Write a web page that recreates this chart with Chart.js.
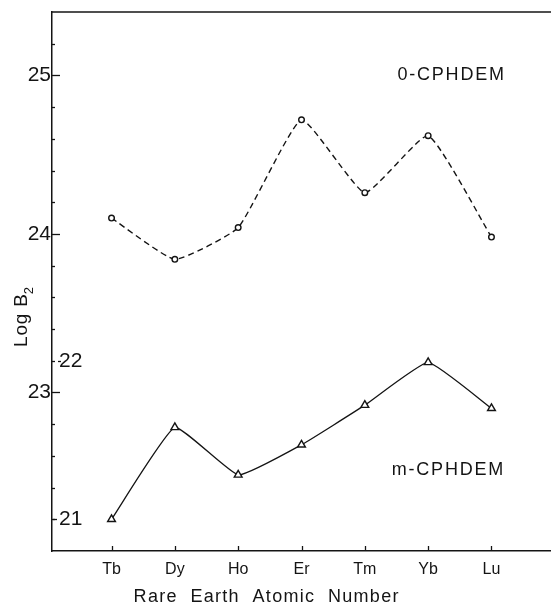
<!DOCTYPE html>
<html>
<head>
<meta charset="utf-8">
<script src="https://cdn.jsdelivr.net/npm/chart.js@4/dist/chart.umd.min.js"></script>
<style>
  html, body { margin: 0; padding: 0; background: #fff; }
  canvas { display: block; }
</style>
</head>
<body>
<canvas id="c" width="551" height="612"></canvas>
<script>
// ---- data ----
const categories = ["Tb", "Dy", "Ho", "Er", "Tm", "Yb", "Lu"];
const oCphdem = [24.10, 23.84, 24.04, 24.72, 24.26, 24.62, 23.98];   // left scale 23-25
const mCphdem = [21.00, 21.58, 21.28, 21.47, 21.72, 21.99, 21.70];   // inner scale 21-22
const oTicks = [23, 24, 25];
const mTicks = [21, 22];
const seriesNames = ["0-CPHDEM", "m-CPHDEM"];
const xTitle = "Rare  Earth  Atomic  Number";
const yTitle = "Log B";
const yTitleSub = "2";

const INK = "#141414";
const FONT = "'Liberation Sans', Arial, sans-serif";

const toPoints = arr => arr.map((v, i) => ({ x: i, y: v }));
const noPad = s => { s.paddingTop = 0; s.paddingBottom = 0; s.paddingLeft = 0; s.paddingRight = 0; };

const decor = {
  id: "decor",
  afterDraw(chart) {
    const { ctx, chartArea: a, scales } = chart;
    const x = scales.x, y = scales.y, y2 = scales.y2;
    ctx.save();
    ctx.strokeStyle = INK;
    ctx.lineWidth = 1.3;
    // top frame line
    ctx.beginPath();
    ctx.moveTo(a.left, a.top);
    ctx.lineTo(a.right, a.top);
    ctx.stroke();
    // inward ticks on left axis (0.2 steps)
    for (let k = 1; k <= 16; k++) {
      const v = y.min + k * 0.2;
      const py = Math.round(y.getPixelForValue(v)) + 0.5;
      const isMajor = oTicks.some(t => Math.abs(t - v) < 1e-6);
      ctx.beginPath();
      ctx.moveTo(a.left, py);
      ctx.lineTo(a.left + (isMajor ? 8 : 3), py);
      ctx.stroke();
    }
    // ticks for inner scale
    mTicks.forEach(t => {
      const py = Math.round(y2.getPixelForValue(t)) + 0.5;
      ctx.beginPath();
      ctx.moveTo(a.left + (t === 22 ? 6 : 1), py);
      ctx.lineTo(a.left + (t === 22 ? 9 : 5), py);
      ctx.stroke();
    });
    // inward ticks on x axis
    categories.forEach((c, i) => {
      const px = Math.round(x.getPixelForValue(i)) + 0.5;
      ctx.beginPath();
      ctx.moveTo(px, a.bottom);
      ctx.lineTo(px, a.bottom - 5);
      ctx.stroke();
    });
    // series labels
    ctx.fillStyle = INK;
    ctx.textAlign = "center";
    ctx.textBaseline = "middle";
    ctx.font = "18px " + FONT;
    ctx.letterSpacing = "1.8px";
    ctx.fillText(seriesNames[0], x.getPixelForValue(5.37), y.getPixelForValue(25.0));
    ctx.fillText(seriesNames[1], x.getPixelForValue(5.32), y2.getPixelForValue(21.31));
    // x-axis title
    ctx.letterSpacing = "1.3px";
    ctx.fillText(xTitle, x.getPixelForValue(2.45), a.bottom + 46);
    // y-axis title (rotated, with subscript)
    ctx.letterSpacing = "0px";
    ctx.translate(22, y.getPixelForValue(23.47));
    ctx.rotate(-Math.PI / 2);
    ctx.font = "19px " + FONT;
    const w1 = ctx.measureText(yTitle).width;
    ctx.font = "13px " + FONT;
    const w2 = ctx.measureText(yTitleSub).width;
    const start = -(w1 + w2 + 1) / 2;
    ctx.textAlign = "left";
    ctx.font = "19px " + FONT;
    ctx.letterSpacing = "0.8px";
    ctx.fillText(yTitle, start, 0);
    ctx.letterSpacing = "0px";
    ctx.font = "13px " + FONT;
    ctx.fillText(yTitleSub, start + w1 + 3, 7);
    ctx.restore();
  }
};

new Chart(document.getElementById("c"), {
  type: "line",
  data: {
    datasets: [
      {
        label: seriesNames[0],
        data: toPoints(oCphdem),
        yAxisID: "y",
        borderColor: INK,
        borderWidth: 1.4,
        borderDash: [6, 4],
        tension: 0.14,
        pointStyle: "circle",
        pointRadius: 2.8,
        pointBorderWidth: 1.4,
        pointBackgroundColor: "#fff",
        pointBorderColor: INK,
        fill: false
      },
      {
        label: seriesNames[1],
        data: toPoints(mCphdem),
        yAxisID: "y2",
        borderColor: INK,
        borderWidth: 1.3,
        tension: 0.12,
        pointStyle: "triangle",
        pointRadius: 4.5,
        pointBorderWidth: 1.4,
        pointBackgroundColor: "#fff",
        pointBorderColor: INK,
        fill: false
      }
    ]
  },
  options: {
    responsive: false,
    animation: false,
    devicePixelRatio: 1,
    layout: { autoPadding: false, padding: { top: 12, right: 0, left: 0, bottom: 0 } },
    plugins: { legend: { display: false }, tooltip: { enabled: false } },
    scales: {
      x: {
        type: "linear",
        min: -0.94,
        max: 6.94,
        afterBuildTicks: s => { s.ticks = categories.map((_, i) => ({ value: i })); },
        afterFit: s => { s.height = 61; noPad(s); },
        grid: { display: false, drawTicks: false },
        border: { display: true, color: INK, width: 1.5 },
        ticks: {
          color: INK,
          font: { family: FONT, size: 16 },
          padding: 9,
          maxRotation: 0,
          autoSkip: false,
          callback: v => categories[v] ?? ""
        },
        title: { display: false }
      },
      y: {
        position: "left",
        weight: 1,
        min: 22.0,
        max: 25.4,
        afterBuildTicks: s => { s.ticks = oTicks.map(v => ({ value: v })); },
        afterFit: s => { s.width = 52; noPad(s); },
        grid: { display: false, drawTicks: false },
        border: { display: true, color: INK, width: 1.5 },
        ticks: {
          color: INK,
          font: { family: FONT, size: 21 },
          padding: 1,
          callback: v => String(v)
        },
        title: { display: false }
      },
      y2: {
        position: "left",
        weight: 0,
        min: 20.8,
        max: 24.2,
        afterBuildTicks: s => { s.ticks = mTicks.map(v => ({ value: v })); },
        afterFit: s => { s.width = 0; noPad(s); },
        grid: { display: false, drawTicks: false },
        border: { display: false },
        ticks: {
          color: INK,
          mirror: true,
          padding: 7,
          font: { family: FONT, size: 21 },
          callback: v => String(v)
        }
      }
    }
  },
  plugins: [decor]
});
</script>
</body>
</html>
